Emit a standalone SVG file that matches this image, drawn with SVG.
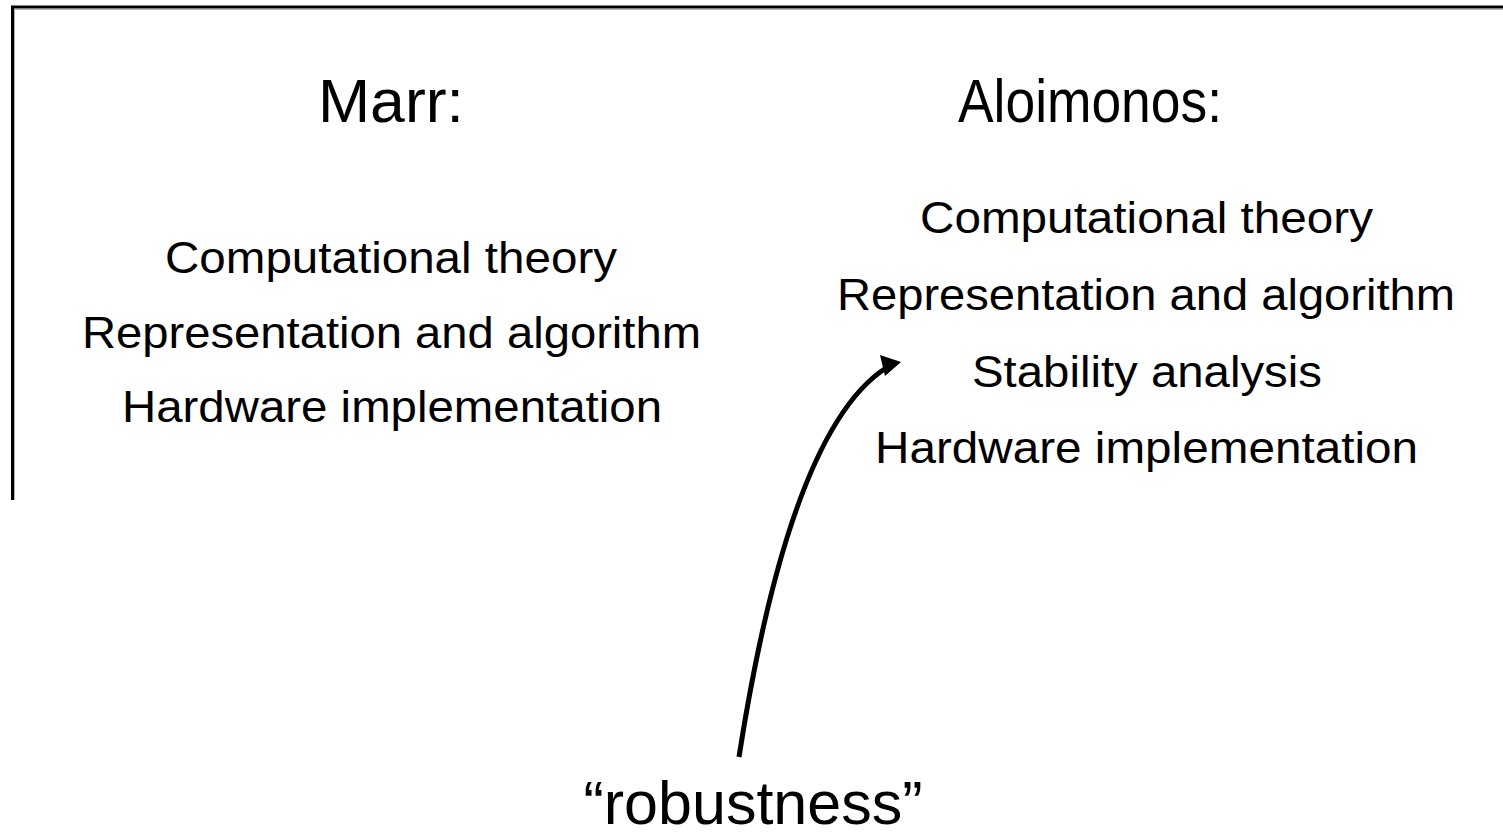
<svg xmlns="http://www.w3.org/2000/svg" width="1503" height="840" viewBox="0 0 1503 840">
  <style>
    .title { font-family: "Liberation Sans", Arial, Helvetica, sans-serif; font-size: 61px; fill: #000; }
    .item { font-family: "Liberation Sans", Arial, Helvetica, sans-serif; font-size: 45px; fill: #000; }
    .note { font-family: "Liberation Sans", Arial, Helvetica, sans-serif; font-size: 61px; fill: #000; text-anchor: middle; }
    .frame { stroke: #000; stroke-width: 3; fill: none; }
    .frame-shade { stroke: #b0b0b0; stroke-width: 1; fill: none; }
    .connector { stroke: #000; stroke-width: 5; fill: none; stroke-linecap: butt; }
  </style>

  <rect width="1503" height="840" fill="#fff"/>

  <!-- open frame: top and left edges -->
  <g id="frame">
    <path class="frame" d="M12.5,500 V7 H1503"/>
    <path class="frame-shade" d="M14.5,500 V9.5 H1503"/>
  </g>

  <!-- left column -->
  <g id="marr">
    <text class="title" x="318" y="122" textLength="146" lengthAdjust="spacingAndGlyphs">Marr:</text>
    <text class="item" x="165" y="273" textLength="452" lengthAdjust="spacingAndGlyphs">Computational theory</text>
    <text class="item" x="82" y="348" textLength="619" lengthAdjust="spacingAndGlyphs">Representation and algorithm</text>
    <text class="item" x="122" y="422" textLength="540" lengthAdjust="spacingAndGlyphs">Hardware implementation</text>
  </g>

  <!-- right column -->
  <g id="aloimonos">
    <text class="title" x="958" y="122" textLength="264" lengthAdjust="spacingAndGlyphs">Aloimonos:</text>
    <text class="item" x="920" y="233" textLength="453" lengthAdjust="spacingAndGlyphs">Computational theory</text>
    <text class="item" x="837" y="310" textLength="618" lengthAdjust="spacingAndGlyphs">Representation and algorithm</text>
    <text class="item" x="972" y="387" textLength="350" lengthAdjust="spacingAndGlyphs">Stability analysis</text>
    <text class="item" x="875" y="463" textLength="543" lengthAdjust="spacingAndGlyphs">Hardware implementation</text>
  </g>

  <g id="robustness">
    <text class="note" x="753" y="824">“robustness”</text>
  </g>

  <g id="connectors">
    <path class="connector" d="M739,757 Q790,430 886,368"/>
    <polygon points="901,362 880,355 885,376" fill="#000"/>
  </g>
</svg>
